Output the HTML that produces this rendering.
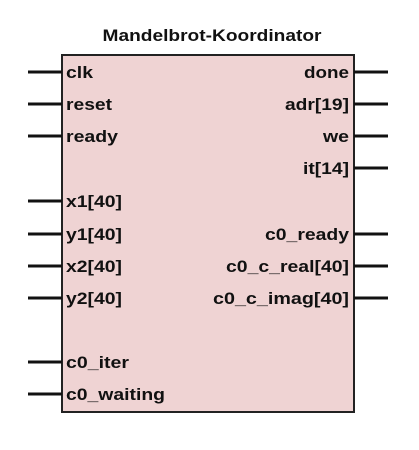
<!DOCTYPE html>
<html><head><style>
body{margin:0;background:#fff;width:419px;height:445px;overflow:hidden}
svg text{font-family:"Liberation Sans",Arial,sans-serif;font-weight:bold;font-size:17px;fill:#111}
</style></head><body>
<svg width="419" height="445" xmlns="http://www.w3.org/2000/svg">
<text x="212" y="41" text-anchor="middle" font-size="17" textLength="219" lengthAdjust="spacingAndGlyphs">Mandelbrot-Koordinator</text>
<rect x="62" y="55" width="292" height="357" fill="#efd3d3" stroke="#222" stroke-width="2"/>
<g stroke="#111" stroke-width="3">
<line x1="28" y1="72" x2="62" y2="72"/><line x1="28" y1="104" x2="62" y2="104"/><line x1="28" y1="136" x2="62" y2="136"/>
<line x1="28" y1="201" x2="62" y2="201"/><line x1="28" y1="234" x2="62" y2="234"/><line x1="28" y1="266" x2="62" y2="266"/><line x1="28" y1="298" x2="62" y2="298"/>
<line x1="28" y1="362" x2="62" y2="362"/><line x1="28" y1="394" x2="62" y2="394"/>
<line x1="354" y1="72" x2="388" y2="72"/><line x1="354" y1="104" x2="388" y2="104"/><line x1="354" y1="136" x2="388" y2="136"/><line x1="354" y1="168" x2="388" y2="168"/>
<line x1="354" y1="234" x2="388" y2="234"/><line x1="354" y1="266" x2="388" y2="266"/><line x1="354" y1="298" x2="388" y2="298"/>
</g>
<g>
<text x="66" y="78" textLength="27" lengthAdjust="spacingAndGlyphs">clk</text>
<text x="66" y="110" textLength="46" lengthAdjust="spacingAndGlyphs">reset</text>
<text x="66" y="142" textLength="52" lengthAdjust="spacingAndGlyphs">ready</text>
<text x="66" y="207" textLength="56" lengthAdjust="spacingAndGlyphs">x1[40]</text>
<text x="66" y="240" textLength="56" lengthAdjust="spacingAndGlyphs">y1[40]</text>
<text x="66" y="272" textLength="56" lengthAdjust="spacingAndGlyphs">x2[40]</text>
<text x="66" y="304" textLength="56" lengthAdjust="spacingAndGlyphs">y2[40]</text>
<text x="66" y="368" textLength="63" lengthAdjust="spacingAndGlyphs">c0_iter</text>
<text x="66" y="400" textLength="99" lengthAdjust="spacingAndGlyphs">c0_waiting</text>
</g>
<g text-anchor="end">
<text x="349" y="78" textLength="45" lengthAdjust="spacingAndGlyphs">done</text>
<text x="349" y="110" textLength="64" lengthAdjust="spacingAndGlyphs">adr[19]</text>
<text x="349" y="142" textLength="26" lengthAdjust="spacingAndGlyphs">we</text>
<text x="349" y="174" textLength="46" lengthAdjust="spacingAndGlyphs">it[14]</text>
<text x="349" y="240" textLength="84" lengthAdjust="spacingAndGlyphs">c0_ready</text>
<text x="349" y="272" textLength="123" lengthAdjust="spacingAndGlyphs">c0_c_real[40]</text>
<text x="349" y="304" textLength="136" lengthAdjust="spacingAndGlyphs">c0_c_imag[40]</text>
</g>
</svg>
</body></html>
